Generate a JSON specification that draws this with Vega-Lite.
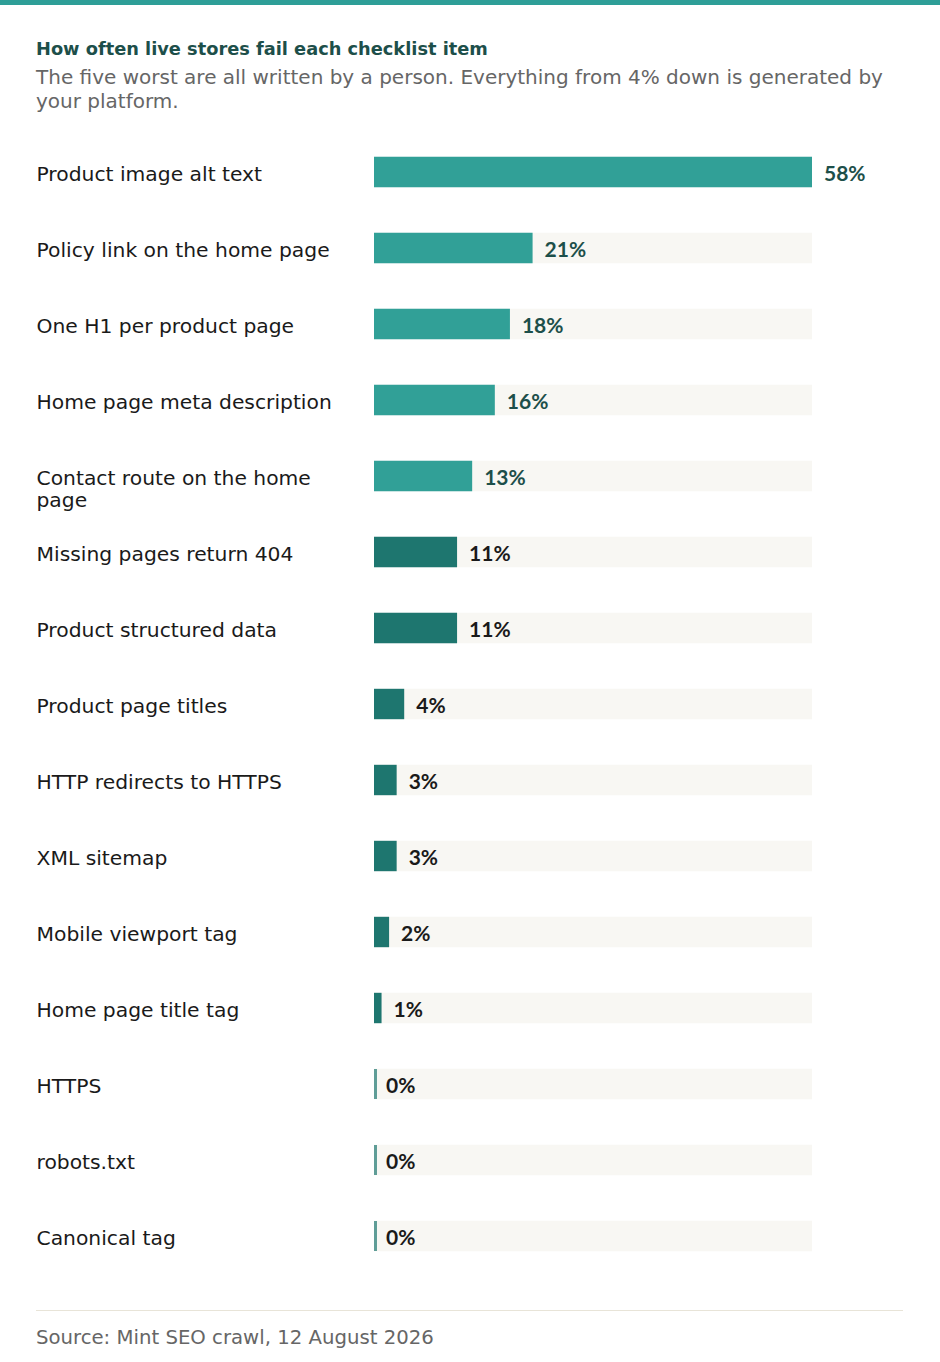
{
  "$schema": "https://vega.github.io/schema/vega-lite/v6.json",
  "background": "white",
  "padding": 0,
  "spacing": 36,
  "config": {
    "view": {"stroke": null},
    "font": "DejaVu Sans",
    "concat": {"spacing": 0}
  },
  "vconcat": [
    {
      "width": 940,
      "height": 5,
      "data": {"values": []},
      "mark": "point",
      "view": {"fill": "#2e9e97", "stroke": null}
    },
    {
      "spacing": 0,
      "hconcat": [
        {"width": 36, "height": 1, "data": {"values": []}, "mark": "point"},
        {
          "width": 438,
          "height": 1140,
          "title": {
            "text": "How often live stores fail each checklist item",
            "subtitle": [
              "The five worst are all written by a person. Everything from 4% down is generated by",
              "your platform."
            ],
            "anchor": "start",
            "frame": "bounds",
            "font": "DejaVu Sans",
            "fontSize": 17.8,
            "fontWeight": "bold",
            "color": "#1d4f4a",
            "subtitleFont": "DejaVu Sans",
            "subtitleFontSize": 20,
            "subtitleColor": "#666666",
            "subtitlePadding": 9,
            "subtitleLineHeight": 24,
            "offset": 22
          },
          "data": {
            "values": [
              {"item": "Product image alt text", "value": 0.58, "source": "Written by a person"},
              {"item": "Policy link on the home page", "value": 0.21, "source": "Written by a person"},
              {"item": "One H1 per product page", "value": 0.18, "source": "Written by a person"},
              {"item": "Home page meta description", "value": 0.16, "source": "Written by a person"},
              {"item": "Contact route on the home page", "value": 0.13, "source": "Written by a person"},
              {"item": "Missing pages return 404", "value": 0.11, "source": "Generated by the platform"},
              {"item": "Product structured data", "value": 0.11, "source": "Generated by the platform"},
              {"item": "Product page titles", "value": 0.04, "source": "Generated by the platform"},
              {"item": "HTTP redirects to HTTPS", "value": 0.03, "source": "Generated by the platform"},
              {"item": "XML sitemap", "value": 0.03, "source": "Generated by the platform"},
              {"item": "Mobile viewport tag", "value": 0.02, "source": "Generated by the platform"},
              {"item": "Home page title tag", "value": 0.01, "source": "Generated by the platform"},
              {"item": "HTTPS", "value": 0.0, "source": "Generated by the platform"},
              {"item": "robots.txt", "value": 0.0, "source": "Generated by the platform"},
              {"item": "Canonical tag", "value": 0.0, "source": "Generated by the platform"}
            ]
          },
          "encoding": {
            "y": {
              "field": "item",
              "type": "nominal",
              "sort": null,
              "scale": {"paddingInner": 0.6, "paddingOuter": 0.3},
              "axis": {
                "title": null,
                "domain": false,
                "ticks": false,
                "tickSize": 0,
                "labelAlign": "left",
                "labelPadding": 338,
                "labelOffset": 3,
                "labelFont": "DejaVu Sans",
                "labelFontSize": 20.3,
                "labelColor": "#1a1a1a",
                "labelLimit": 330,
                "labelLineHeight": 22,
                "labelExpr": "datum.label == 'Contact route on the home page' ? ['Contact route on the home', 'page'] : datum.label"
              }
            }
          },
          "layer": [
            {
              "mark": {"type": "bar", "color": "#f8f7f3"},
              "encoding": {
                "x": {
                  "datum": 0.58,
                  "type": "quantitative",
                  "scale": {"domain": [0, 0.58], "nice": false},
                  "axis": null
                }
              }
            },
            {
              "mark": {"type": "tick", "thickness": 3, "size": 30, "xOffset": 1.5},
              "encoding": {
                "x": {"datum": 0, "type": "quantitative"},
                "color": {
                  "field": "source",
                  "type": "nominal",
                  "scale": {
                    "domain": ["Written by a person", "Generated by the platform"],
                    "range": ["#31a097", "#1e766f"]
                  },
                  "legend": null
                }
              }
            },
            {
              "mark": {"type": "bar"},
              "encoding": {
                "x": {"field": "value", "type": "quantitative"},
                "color": {"field": "source", "type": "nominal", "legend": null}
              }
            },
            {
              "mark": {
                "type": "text",
                "align": "left",
                "baseline": "middle",
                "dx": 12,
                "dy": 3,
                "font": "Lato",
                "fontSize": 21,
                "fontWeight": "bold"
              },
              "encoding": {
                "x": {"field": "value", "type": "quantitative"},
                "text": {"field": "value", "type": "quantitative", "format": ".0%"},
                "color": {
                  "condition": {"test": "datum.source === 'Written by a person'", "value": "#1d4f4a"},
                  "value": "#1a1a1a"
                }
              }
            }
          ]
        }
      ]
    },
    {
      "spacing": 0,
      "hconcat": [
        {"width": 36, "height": 1, "data": {"values": []}, "mark": "point"},
        {
          "width": 867,
          "height": 1,
          "data": {"values": []},
          "mark": "point",
          "view": {"fill": "#e8e4d8", "stroke": null},
          "title": {
            "text": "Source: Mint SEO crawl, 12 August 2026",
            "orient": "bottom",
            "anchor": "start",
            "font": "DejaVu Sans",
            "fontSize": 19.7,
            "fontWeight": "normal",
            "color": "#666666",
            "offset": 17
          }
        }
      ]
    }
  ]
}
